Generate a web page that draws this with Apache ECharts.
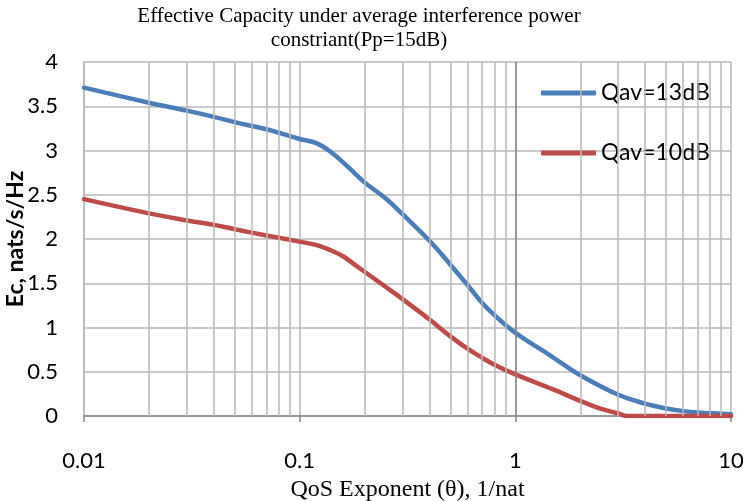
<!DOCTYPE html>
<html>
<head>
<meta charset="utf-8">
<script src="https://cdn.jsdelivr.net/npm/echarts@6/dist/echarts.min.js"></script>
<style>html,body{margin:0;padding:0;background:#fff}#c{width:748px;height:501px}</style>
</head>
<body>
<div id="c"></div>
<script>
var titleLines = ['Effective Capacity under average interference power', 'constriant(Pp=15dB)'];
var xName = 'QoS Exponent (\u03b8), 1/nat';
var yName = 'Ec, nats/s/Hz';
var seriesNames = ['Qav=13dB', 'Qav=10dB'];

var thetaBlue = [0.01,0.02,0.03,0.04,0.05,0.07,0.1,0.12,0.14,0.17,0.2,0.25,0.3,0.4,0.5,0.6,0.7,0.8,0.9,1,1.5,2,3,4,5,6,7,10];
var ecBlue    = [3.71,3.54,3.45,3.38,3.32,3.24,3.13,3.08,2.98,2.80,2.64,2.46,2.28,1.98,1.71,1.48,1.28,1.14,1.03,0.94,0.66,0.46,0.24,0.14,0.085,0.055,0.04,0.02];

var thetaRed = [0.01,0.02,0.03,0.04,0.05,0.07,0.1,0.12,0.14,0.16,0.18,0.2,0.25,0.3,0.4,0.5,0.6,0.7,0.8,1,1.5,2,2.5,3,3.3,5,10];
var ecRed    = [2.45,2.29,2.21,2.16,2.11,2.04,1.97,1.93,1.87,1.80,1.71,1.63,1.46,1.32,1.09,0.90,0.76,0.66,0.58,0.47,0.30,0.17,0.08,0.03,0,0,0];

var minorGrid = [0.02,0.03,0.04,0.05,0.06,0.07,0.08,0.09,0.2,0.3,0.4,0.5,0.6,0.7,0.8,0.9,2,3,4,5,6,7,8,9];
var yTicks = {min: 0, max: 4, interval: 0.5};

function pairs(xs, ys){ return xs.map(function(x,i){ return [x, ys[i]]; }); }

var chart = echarts.init(document.getElementById('c'));
var gridColor = '#b8b8b8';
chart.setOption({
  backgroundColor: '#fff',
  animation: false,
  title: {
    text: titleLines.join('\n'),
    left: 354, top: -1, textAlign: 'center',
    textStyle: {fontFamily: 'Liberation Serif', fontSize: 21, fontWeight: 'normal', color: '#000', lineHeight: 24}
  },
  grid: {left: 84, right: 17, top: 62, bottom: 85, containLabel: false, outerBoundsMode: 'none'},
  legend: {
    orient: 'vertical', left: 541, top: 81, padding: 0,
    itemWidth: 55, itemHeight: 5, itemGap: 36,
    icon: 'roundRect',
    textStyle: {fontFamily: 'Lato', fontSize: 23, color: '#000', lineHeight: 24},
    data: seriesNames
  },
  xAxis: {
    type: 'log', logBase: 10, min: 0.01, max: 10,
    name: xName, nameLocation: 'middle', nameGap: 62, nameMoveOverlap: false,
    nameTextStyle: {fontFamily: 'Liberation Serif', fontSize: 24, color: '#000'},
    axisLine: {show: true, onZero: false, lineStyle: {color: '#868686', width: 1.5}},
    axisTick: {show: true, length: 6, lineStyle: {color: '#868686', width: 1.5}},
    axisLabel: {margin: 34, fontFamily: 'Lato', fontSize: 22, color: '#000',
      formatter: function(v){ return String(+v.toPrecision(6)); }},
    splitLine: {show: true, lineStyle: {color: gridColor, width: 1.5}},
    minorTick: {show: false}
  },
  yAxis: {
    type: 'value', min: yTicks.min, max: yTicks.max, interval: yTicks.interval,
    name: yName, nameLocation: 'middle', nameGap: 57, nameRotate: 90, nameMoveOverlap: false,
    nameTextStyle: {fontFamily: 'Lato', fontSize: 23, fontWeight: 'bold', color: '#000'},
    axisLine: {show: true, lineStyle: {color: gridColor, width: 1.5}},
    axisTick: {show: false},
    axisLabel: {margin: 26, fontFamily: 'Lato', fontSize: 22, color: '#000'},
    splitLine: {show: true, lineStyle: {color: gridColor, width: 1.5}}
  },
  series: [
    {
      type: 'line', name: '_grid', data: [], z: 1, silent: true,
      markLine: {
        silent: true, symbol: ['none','none'], label: {show: false}, animation: false,
        data: minorGrid.map(function(v){ return {xAxis: v, lineStyle: {color: gridColor, width: 1.5, type: 'solid'}}; })
          .concat([{xAxis: 1, lineStyle: {color: '#868686', width: 1.5, type: 'solid'}}])
      }
    },
    {
      name: seriesNames[0], type: 'line', z: 3,
      data: pairs(thetaBlue, ecBlue),
      smooth: 0.4, showSymbol: false, symbol: 'none',
      lineStyle: {color: '#4a7ebb', width: 4.5, cap: 'round'},
      itemStyle: {color: '#4a7ebb'}
    },
    {
      name: seriesNames[1], type: 'line', z: 4,
      data: pairs(thetaRed, ecRed),
      smooth: 0.4, showSymbol: false, symbol: 'none',
      lineStyle: {color: '#be4b48', width: 4.5, cap: 'round'},
      itemStyle: {color: '#be4b48'}
    }
  ]
});
</script>
</body>
</html>
